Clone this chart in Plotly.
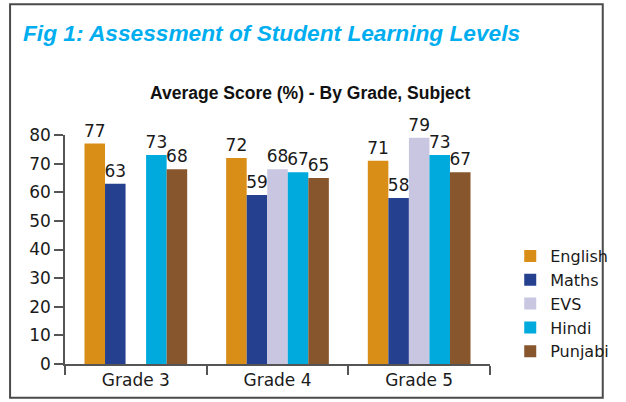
import plotly.graph_objects as go

grades = ["Grade 3", "Grade 4", "Grade 5"]
subjects = ["English", "Maths", "EVS", "Hindi", "Punjabi"]
english = [77, 72, 71]
maths = [63, 59, 58]
evs = [None, 68, 79]
hindi = [73, 67, 73]
punjabi = [68, 65, 67]
colors = ["#D98E18", "#24408E", "#C8C6E0", "#00AADD", "#87562C"]
yticks = [0, 10, 20, 30, 40, 50, 60, 70, 80]

series = [english, maths, evs, hindi, punjabi]

W, H = 626, 402
ML, MR, MT, MB = 65, 120, 135, 36
PW = W - ML - MR
PH = H - MT - MB

fig = go.Figure()
for name, vals, col in zip(subjects, series, colors):
    fig.add_trace(go.Bar(
        x=grades, y=vals, name=name, marker_color=col,
        marker_line_width=0,
        text=[("" if v is None else str(v)) for v in vals],
        textposition="outside", cliponaxis=False, constraintext="none",
        textangle=0,
        textfont=dict(family="DejaVu Sans", size=17, color="#1a1a1a"),
    ))

def px_x(p):
    return (p - ML) / PW

def px_y(p):
    return (H - MB - p) / PH

fig.update_layout(
    width=W, height=H,
    margin=dict(l=ML, r=MR, t=MT, b=MB),
    paper_bgcolor="white", plot_bgcolor="white",
    barmode="group", bargap=0.275, bargroupgap=0,
    showlegend=True,
    legend=dict(x=px_x(527), y=px_y(240), xanchor="left", yanchor="top",
                font=dict(family="DejaVu Sans", size=16, color="#1a1a1a"),
                bgcolor="rgba(0,0,0,0)", tracegroupgap=0),
    title=dict(text="<b><i>Fig 1: Assessment of Student Learning Levels</i></b>",
               x=23 / W, xanchor="left", xref="container",
               y=1 - 33 / H, yanchor="middle", yref="container",
               font=dict(family="Liberation Sans", size=22.7, color="#00AEEF")),
    xaxis=dict(showline=True, linecolor="#555555", linewidth=1.5,
               ticks="outside", ticklen=9, tickcolor="#555555", tickwidth=1.5,
               tickson="boundaries", showgrid=False,
               tickfont=dict(family="DejaVu Sans", size=17, color="#1a1a1a")),
    yaxis=dict(range=[0, 80], tickvals=yticks, showline=True,
               linecolor="#555555", linewidth=1.5,
               ticks="outside", ticklen=9, tickcolor="#555555", tickwidth=1.5,
               showgrid=False, zeroline=False,
               tickfont=dict(family="DejaVu Sans", size=17, color="#1a1a1a")),
    shapes=[dict(type="rect", xref="paper", yref="paper",
                 x0=px_x(8), x1=px_x(623), y0=px_y(400), y1=px_y(3),
                 line=dict(color="#4a4a4a", width=2), fillcolor="rgba(0,0,0,0)",
                 layer="above")],
    annotations=[dict(text="<b>Average Score (%) - By Grade, Subject</b>",
                      xref="paper", yref="paper", x=px_x(319), y=px_y(93),
                      xanchor="center", yanchor="middle", showarrow=False,
                      font=dict(family="Liberation Sans", size=17.5, color="#111111"))],
)

fig.write_html("out.html",
               config={"displayModeBar": False},
               post_script="document.body.style.margin='0';document.body.style.overflow='hidden';")
